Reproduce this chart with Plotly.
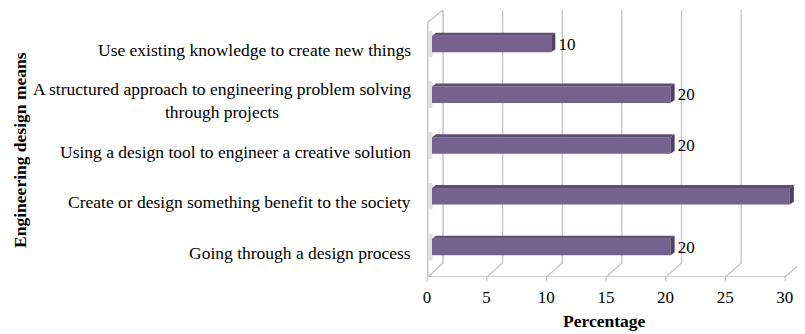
import plotly.graph_objects as go

# data, listed top to bottom as in the chart
categories = [
    "Use existing knowledge to create new things",
    "A structured approach to engineering problem solving<br>through projects",
    "Using a design tool to engineer a creative solution",
    "Create or design something benefit to the society",
    "Going through a design process",
]
percentages = [10, 20, 20, 30, 20]
tick_values = [0, 5, 10, 15, 20, 25, 30]

FONT = "Liberation Serif"
BAR_FRONT = "#76628f"
BAR_TOP = "#5e4e73"
BAR_SIDE = "#4f4064"
GRID = "#c4c4c4"

positions = list(range(len(categories)))
bar_w = 0.325          # front face thickness (category units)
dx, dy = 0.34, 0.06    # depth offset of the 3d faces
y_lo, y_hi = 4.59, -0.67   # reversed y range
wall_bottom = 4.315
back_off, front_off = 0.92, -0.4

fig = go.Figure()
fig.add_trace(go.Bar(
    x=percentages,
    y=positions,
    orientation="h",
    width=bar_w,
    marker=dict(color=BAR_FRONT, line=dict(width=0)),
    text=["\u00a0" + str(v) for v in percentages],
    textposition="outside",
    textfont=dict(family=FONT, size=17, color="black"),
    constraintext="none",
    cliponaxis=False,
    hoverinfo="skip",
))

shapes = []
# back wall gridlines + slanted floor lines
for t in tick_values:
    shapes.append(dict(type="line", xref="x", yref="y", layer="below",
                       x0=t + back_off, x1=t + back_off, y0=y_hi, y1=wall_bottom,
                       line=dict(color=GRID, width=1.3)))
    shapes.append(dict(type="line", xref="x", yref="y", layer="below",
                       x0=t + back_off, x1=t + front_off, y0=wall_bottom, y1=y_lo,
                       line=dict(color=GRID, width=1.3)))
    # small tick marks below the front edge
    shapes.append(dict(type="line", xref="x", yref="paper", layer="below",
                       x0=t + front_off, x1=t + front_off, y0=0, y1=-0.016,
                       line=dict(color=GRID, width=1.3)))
# front edge of the floor
shapes.append(dict(type="line", xref="x", yref="y", layer="below",
                   x0=front_off + 0.05, x1=tick_values[-1] + front_off, y0=y_lo, y1=y_lo,
                   line=dict(color=GRID, width=1.3)))
# left wall
shapes.append(dict(type="path", xref="x", yref="y", layer="below",
                   path=f"M {front_off + 0.05},{y_lo} L {front_off + 0.05},{y_hi + 0.24} "
                        f"L {back_off},{y_hi} L {back_off},{wall_bottom} Z",
                   fillcolor="white", line=dict(color=GRID, width=1.3)))

# 3d faces of the bars + soft wall shadow
for i, v in zip(positions, percentages):
    top = i - bar_w / 2
    bot = i + bar_w / 2
    shapes.append(dict(type="rect", xref="x", yref="y", layer="below",
                       x0=front_off + 0.12, x1=0.05, y0=top - 0.1, y1=bot + 0.1,
                       fillcolor="rgba(140,140,140,0.25)", line=dict(width=0)))
    shapes.append(dict(type="path", xref="x", yref="y",
                       path=f"M 0,{top} L {v},{top} L {v + dx},{top - dy} L {dx},{top - dy} Z",
                       fillcolor=BAR_TOP, line=dict(width=0)))
    shapes.append(dict(type="path", xref="x", yref="y",
                       path=f"M {v},{top} L {v + dx},{top - dy} L {v + dx},{bot - dy} L {v},{bot} Z",
                       fillcolor=BAR_SIDE, line=dict(width=0)))

annotations = []
for i, label in zip(positions, categories):
    annotations.append(dict(
        text=label, xref="paper", yref="y", x=0, y=i,
        xanchor="right", yanchor="middle", xshift=-13, yshift=-6,
        align="center", showarrow=False,
        font=dict(family=FONT, size=17.5, color="black"),
    ))
annotations.append(dict(
    text="<b>Engineering design means</b>", xref="paper", yref="paper",
    x=0, y=0.476, xshift=-406, textangle=-90,
    xanchor="center", yanchor="middle", showarrow=False,
    font=dict(family=FONT, size=17.5, color="black"),
))
annotations.append(dict(
    text="<b>Percentage</b>", xref="paper", yref="paper",
    x=0.472, y=-0.165, xanchor="center", yanchor="middle", showarrow=False,
    font=dict(family=FONT, size=17.5, color="black"),
))

# page body has an 8px margin, so the figure is 8px smaller on each axis
fig.update_layout(
    width=797, height=326,
    margin=dict(l=418, r=0, t=2, b=57),
    plot_bgcolor="white", paper_bgcolor="white",
    showlegend=False,
    shapes=shapes,
    annotations=annotations,
    xaxis=dict(range=[-0.5, 31.27], tickvals=tick_values, showgrid=False,
               zeroline=False, showline=False, ticks="",
               ticklabelshift=-5, ticklabelstandoff=8,
               tickfont=dict(family=FONT, size=17, color="black")),
    yaxis=dict(range=[y_lo, y_hi], showgrid=False, zeroline=False,
               showline=False, showticklabels=False, ticks=""),
)

fig.write_html("out.html")
